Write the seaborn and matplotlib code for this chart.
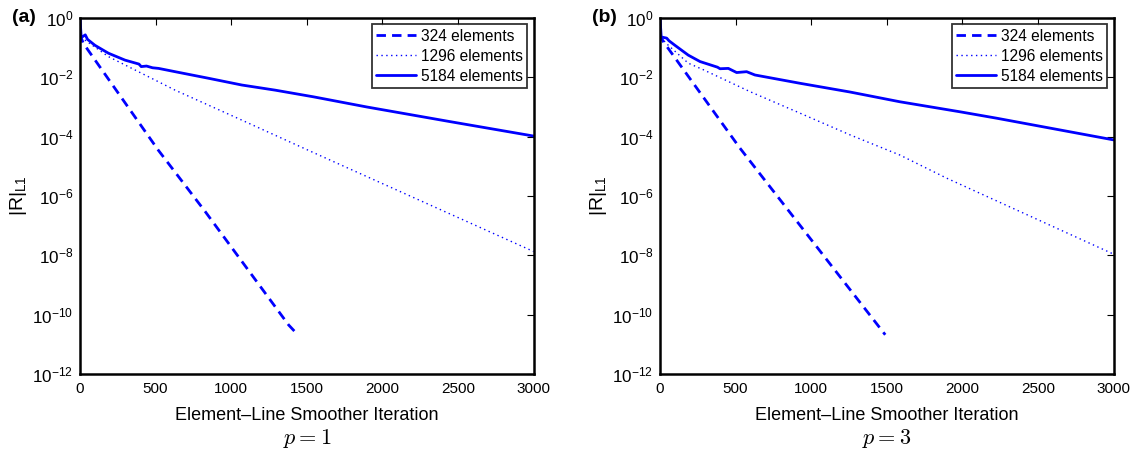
import numpy as np
import pandas as pd
import matplotlib
matplotlib.use("Agg")
import matplotlib.pyplot as plt
import seaborn as sns

sns.set_theme(style="white")
plt.rcParams['font.family'] = ['Liberation Sans', 'DejaVu Sans']
plt.rcParams['mathtext.fontset'] = 'cm'
plt.rcParams['text.color'] = 'black'
plt.rcParams['axes.labelcolor'] = 'black'
plt.rcParams['xtick.color'] = 'black'
plt.rcParams['ytick.color'] = 'black'

# ---------------- data ----------------
labels = ["324 elements", "1296 elements", "5184 elements"]

# panel (a), p = 1
it_324_a = [0, 3, 22, 518, 828, 1380, 1424]
r_324_a = [1.0, 0.25, 0.14, 3.5e-5, 3.0e-7, 4.5e-11, 2.6e-11]
it_1296_a = [0, 5, 33, 188, 629, 1071, 1479, 3000]
r_1296_a = [1.0, 0.22, 0.18, 5.0e-2, 3.7e-3, 3.6e-4, 4.1e-5, 1.35e-8]
it_5184_a = [0, 8, 20, 35, 50, 99, 188, 298, 390, 405, 440, 480, 520, 629,
             850, 1071, 1291, 1545, 1898, 2450, 3000]
r_5184_a = [1.0, 0.22, 0.24, 0.27, 0.19, 0.12, 6.5e-2, 3.8e-2, 2.8e-2, 2.3e-2,
            2.4e-2, 2.1e-2, 2.0e-2, 1.55e-2, 9.3e-3, 5.5e-3, 3.7e-3, 2.2e-3,
            1.0e-3, 3.2e-4, 1.05e-4]

# panel (b), p = 3
it_324_b = [0, 3, 22, 529, 683, 1490]
r_324_b = [1.0, 0.25, 0.16, 4.1e-5, 4.0e-6, 2.1e-11]
it_1296_b = [0, 5, 55, 187, 287, 595, 926, 1257, 1587, 1896, 3000]
r_1296_b = [1.0, 0.22, 0.12, 3.0e-2, 1.8e-2, 3.3e-3, 6.2e-4, 1.15e-4, 2.4e-5,
            4.0e-6, 1.1e-8]
it_5184_b = [0, 8, 25, 44, 60, 99, 187, 265, 380, 397, 452, 507, 573, 628,
             926, 1257, 1587, 1984, 2226, 3000]
r_5184_b = [1.0, 0.23, 0.22, 0.21, 0.17, 0.12, 5.6e-2, 3.4e-2, 2.2e-2, 1.95e-2,
            2.0e-2, 1.45e-2, 1.55e-2, 1.2e-2, 6.3e-3, 3.2e-3, 1.5e-3, 6.9e-4,
            4.2e-4, 7.8e-5]

panel_tags = ["(a)", "(b)"]
panel_titles = [r"$p = 1$", r"$p = 3$"]
xticks = [0, 500, 1000, 1500, 2000, 2500, 3000]
yticks = [1e0, 1e-2, 1e-4, 1e-6, 1e-8, 1e-10, 1e-12]
ytick_labels = [r"$\mathregular{10^{0}}$", r"$\mathregular{10^{-2}}$", r"$\mathregular{10^{-4}}$",
                r"$\mathregular{10^{-6}}$", r"$\mathregular{10^{-8}}$",
                r"$\mathregular{10^{-10}}$", r"$\mathregular{10^{-12}}$"]

panels = [
    [(it_324_a, r_324_a), (it_1296_a, r_1296_a), (it_5184_a, r_5184_a)],
    [(it_324_b, r_324_b), (it_1296_b, r_1296_b), (it_5184_b, r_5184_b)],
]
styles = [dict(linestyle=(0, (3.4, 2.2)), linewidth=2.0),
          dict(linestyle=(0, (1, 2.5)), linewidth=1.0),
          dict(linestyle="-", linewidth=2.0)]

fig = plt.figure(figsize=(11.4, 4.5), dpi=100)
lefts = [80 / 1140, 660 / 1140]
width = 453.5 / 1140
bottom = (450 - 374) / 450
height = (374 - 18) / 450

for k in range(2):
    ax = fig.add_axes([lefts[k], bottom, width, height])
    for (it, r), lab, st in zip(panels[k], labels, styles):
        df = pd.DataFrame({"it": it, "r": r})
        sns.lineplot(data=df, x="it", y="r", ax=ax, color="#0000ff", label=lab,
                     estimator=None, sort=False, **st)
    ax.set_yscale("log")
    ax.set_xlim(0, 3000)
    ax.set_ylim(1e-12, 1e0)
    ax.set_xticks(xticks)
    ax.set_xticklabels([str(t) for t in xticks])
    ax.set_yticks(yticks)
    ax.set_yticklabels(ytick_labels)
    ax.minorticks_off()
    ax.yaxis.set_minor_locator(matplotlib.ticker.NullLocator())
    ax.tick_params(direction="in", length=5, width=0.8, top=True, right=True,
                   colors="black", pad=6)
    ax.tick_params(axis="x", labelsize=11)
    ax.tick_params(axis="y", labelsize=12.3, pad=5)
    for sp in ax.spines.values():
        sp.set_color("black")
        sp.set_linewidth(1.8)
    ax.set_xlabel("Element\u2013Line Smoother Iteration", fontsize=13, labelpad=8)
    ax.set_ylabel(r"$\mathregular{|R|_{L1}}$", fontsize=14, labelpad=2)
    ax.text(0.5, -0.18, panel_titles[k], transform=ax.transAxes, ha="center",
            va="center", fontsize=16)
    ax.text(-0.15, 1.0, panel_tags[k], transform=ax.transAxes, ha="left",
            va="center", fontsize=14, fontweight="bold")
    leg = ax.legend(loc="upper right", fontsize=11.2, frameon=True, fancybox=False,
                    borderaxespad=0.4, handlelength=2.6, handletextpad=0.3,
                    labelspacing=0.32, borderpad=0.28)
    leg.get_frame().set_edgecolor("black")
    leg.get_frame().set_linewidth(1.3)
    for t in leg.get_texts():
        t.set_color("black")
    ax.grid(False)

fig.savefig("out.png", dpi=100)
